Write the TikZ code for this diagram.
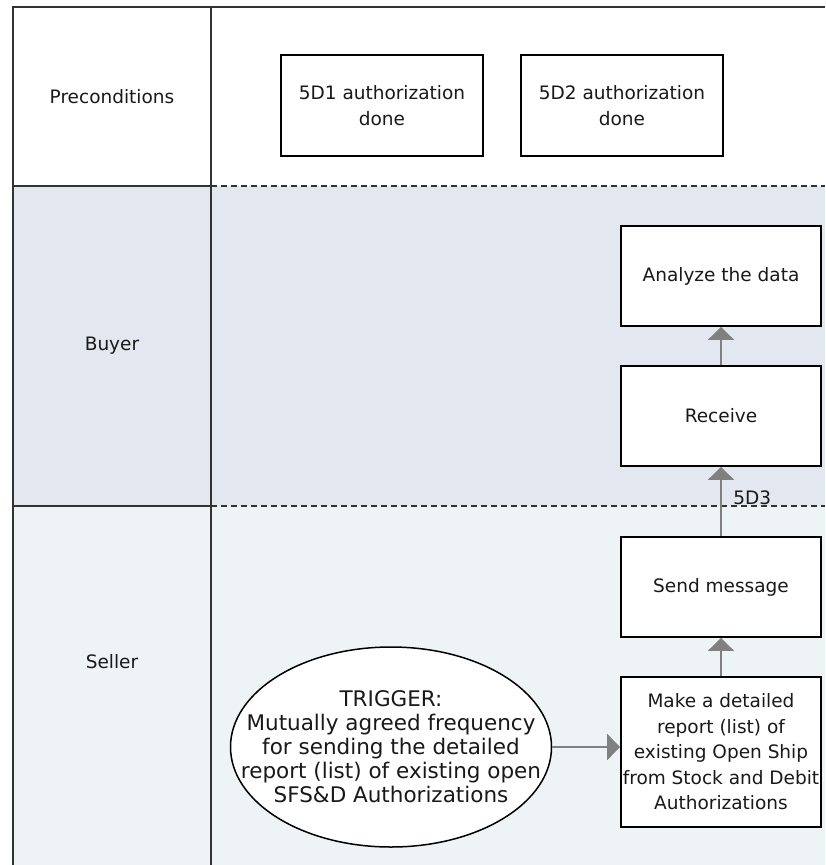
\documentclass[tikz,border=0pt]{standalone}
\usepackage{fontspec}
\setmainfont{DejaVu Sans}
\usetikzlibrary{arrows.meta,shapes.geometric}
\definecolor{buyerfill}{RGB}{227,231,239}
\definecolor{sellerfill}{RGB}{238,243,246}
\definecolor{framegray}{RGB}{50,50,50}
\definecolor{flowgray}{RGB}{128,128,128}
\definecolor{txtclr}{RGB}{25,25,25}
\tikzset{
  % Lane lines
  laneline/.style  = {line width=2pt, draw=framegray},
  lanedash/.style  = {line width=1.5pt, draw=framegray, dash pattern=on 6pt off 4pt},
  lanelab/.style   = {font=\fontsize{18.5}{25.5}\selectfont, text=txtclr},
  % Boxes
  procbox/.style   = {draw=black, line width=1.8pt, fill=white, minimum width=200pt,
                      minimum height=100pt, inner sep=0pt, align=center,
                      font=\fontsize{18.5}{25.5}\selectfont, text=txtclr},
  trigshape/.style = {ellipse, draw=black, line width=1.5pt, fill=white, minimum width=321pt,
                      minimum height=200pt, inner sep=-50pt, align=center,
                      font=\fontsize{21.5}{24}\selectfont, text=txtclr},
  % Arrows
  flow/.style      = {-{Triangle[width=26pt,length=13pt]}, line width=2pt, draw=flowgray},
  flowlab/.style   = {font=\fontsize{18.5}{22}\selectfont, text=txtclr},
}

\begin{document}
\begin{tikzpicture}[x=1pt,y=-1pt]
  \useasboundingbox (0,0) rectangle (825,865);
  % Lane fills
  \fill[buyerfill] (13,186) rectangle (825,506);
  \fill[sellerfill] (13,506) rectangle (825,865);
  % Lane frame
  \draw[laneline] (13,865) -- (13,7) -- (825,7);
  \draw[laneline] (211,7) -- (211,865);
  \draw[laneline] (13,186) -- (211,186);
  \draw[laneline] (13,506) -- (211,506);
  \draw[lanedash] (211,186) -- (825,186);
  \draw[lanedash] (211,506) -- (825,506);
  % Lane labels
  \node[lanelab] (lpre) at (112,97) {Preconditions};
  \node[lanelab] (lbuy) at (112,346) {Buyer};
  \node[lanelab] (lsel) at (112,662) {Seller};
  % Preconditions
  \node[procbox, minimum width=202pt, minimum height=101pt] (pre1) at (382,105.5) {5D1 authorization\\done};
  \node[procbox, minimum width=202pt, minimum height=101pt] (pre2) at (622,105.5) {5D2 authorization\\done};
  % Buyer
  \node[procbox] (analyze) at (721,276) {Analyze the data};
  \node[procbox] (receive) at (721,416) {Receive};
  % Seller
  \node[procbox] (send) at (721,587) {Send message};
  \node[procbox, minimum height=150pt] (report) at (721,752)
    {Make a detailed\\report (list) of\\existing Open Ship\\from Stock and Debit\\Authorizations};
  \node[trigshape] (trigger) at (391,747)
    {TRIGGER:\\Mutually agreed frequency\\for sending the detailed\\report (list) of existing open\\SFS\&D Authorizations};
  % Flow
  \draw[flow] (trigger.east) -- (trigger.east -| report.west);
  \draw[flow] (report) -- (send);
  \draw[flow] (send) -- (receive) node[pos=0.56, right=8pt, flowlab] {5D3};
  \draw[flow] (receive) -- (analyze);
\end{tikzpicture}
\end{document}
